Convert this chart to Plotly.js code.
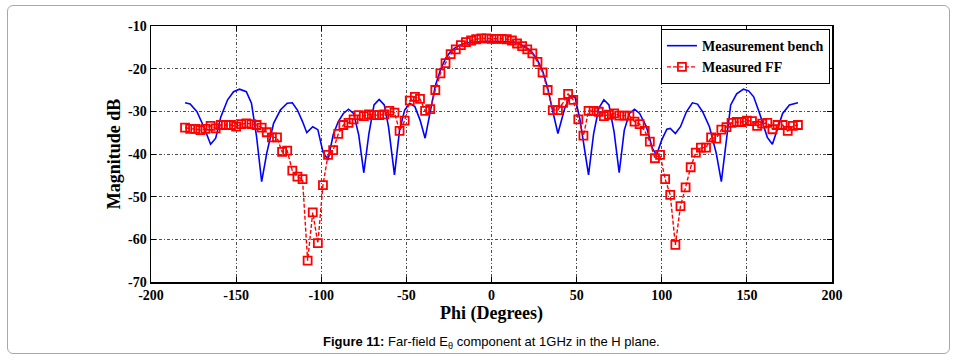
<!DOCTYPE html>
<html>
<head>
<meta charset="utf-8">
<script src="https://cdn.plot.ly/plotly-3.0.1.min.js"></script>
<style>
html,body{margin:0;padding:0;background:#fff;}
#frame{position:absolute;left:7px;top:5px;width:943px;height:349px;border:1px solid #a8a8a8;border-radius:6px;box-sizing:border-box;}
#chart{position:absolute;left:0;top:0;width:958px;height:361px;}
</style>
</head>
<body>
<div id="frame"></div>
<div id="chart"></div>
<script>
// Measured FF (red) — phi step 3 deg
const ffPhi = [];
for (let p = -180; p <= 180; p += 3) ffPhi.push(p);
const ffMag = [
-33.8,-34.1,-34.1,-34.4,-34.1,-33.4,-34.0,-33.2,-33.2,-33.2,
-33.6,-33.0,-32.8,-33.0,-33.2,-33.8,-34.9,-36.1,-36.1,-39.5,
-39.2,-43.9,-45.3,-45.9,-65.0,-53.7,-60.9,-47.3,-40.2,-39.1,
-35.3,-33.2,-32.7,-31.9,-30.9,-31.1,-30.7,-30.9,-30.9,-30.7,
-29.9,-30.3,-34.6,-32.2,-27.5,-26.6,-27.1,-29.9,-29.5,-25.0,
-21.1,-18.7,-16.6,-15.5,-14.5,-13.8,-13.4,-13.1,-12.9,-12.9,
-13.0,-13.0,-13.0,-13.1,-13.4,-14.1,-14.7,-15.5,-16.4,-18.4,
-20.9,-25.0,-29.7,-29.7,-28.0,-25.9,-27.3,-31.9,-35.7,-29.9,
-29.9,-30.1,-31.1,-30.8,-30.5,-31.0,-31.0,-31.0,-32.4,-33.0,
-34.6,-37.1,-41.0,-40.2,-45.9,-49.6,-61.3,-52.2,-47.8,-43.1,
-39.7,-38.5,-38.5,-36.1,-36.4,-34.3,-33.7,-32.7,-32.5,-32.5,
-32.2,-32.3,-33.4,-32.9,-32.7,-34.2,-33.2,-33.2,-34.6,-33.4,
-33.2
];

// Measurement bench (blue)
const benchPhi = [
-180,-177,-173,-169,-165,-162,-159,-155,-151.5,-148,
-144,-141,-138,-135,-132,-128,-124,-120,-117,-114,
-111,-108.5,-105,-102,-99,-96,-93,-90,-87,-84,
-81,-78,-75,-72,-69,-66,-63,-60.5,-57,-54,
-51,-48,-45,-42,-39,-36,-33,-30,-27,-24,
-21,-18,-15,-12,-9,-6,-3,0,3,6,
9,12,15,18,21,24,27,30,33,36,
39,43,46,49,52,55,57,60,63,66,
69,72,75,78,81,84,87,91,94.5,97,
100,103,105,108,111,114.5,118,121,124,128,
132,135,138,140.5,144,148,151,154,157.5,162,
165,168,171,175,180
];
const benchMag = [
-28.0,-28.3,-30.1,-33.6,-37.7,-36.3,-31.3,-27.3,-25.4,-24.8,
-25.4,-28.1,-35.9,-46.5,-39.8,-32.8,-29.7,-28.1,-28.0,-29.7,
-32.4,-35.0,-33.6,-34.3,-39.5,-41.4,-35.5,-32.4,-30.5,-29.5,
-30.5,-35.5,-44.4,-35.2,-28.5,-27.2,-28.5,-33.6,-44.9,-34.4,
-29.7,-28.1,-28.9,-32.0,-36.3,-30.5,-24.0,-20.3,-17.6,-16.0,
-15.0,-14.4,-14.0,-13.8,-13.7,-13.6,-13.6,-13.6,-13.6,-13.6,
-13.7,-13.8,-14.0,-14.5,-15.2,-16.2,-18.0,-20.5,-24.5,-30.0,
-35.2,-29.3,-26.6,-26.6,-32.0,-39.8,-44.9,-35.2,-29.3,-27.3,
-28.5,-34.8,-44.4,-34.4,-30.5,-29.5,-30.5,-33.6,-38.7,-40.2,
-36.7,-34.2,-34.0,-35.2,-33.6,-30.1,-28.0,-28.3,-30.1,-33.6,
-39.8,-46.5,-35.9,-28.5,-25.9,-24.8,-25.2,-26.6,-30.5,-36.1,
-37.7,-34.0,-30.5,-28.5,-28.0
];

const xTicks = [-200,-150,-100,-50,0,50,100,150,200];
const yTicks = [-70,-60,-50,-40,-30,-20,-10];

const serif = 'Liberation Serif, Times New Roman, serif';

const traces = [
  {
    x: benchPhi, y: benchMag, type: 'scatter', mode: 'lines',
    name: '<b>Measurement bench</b>',
    line: {color: '#0000ff', width: 1.6}
  },
  {
    x: ffPhi, y: ffMag, type: 'scatter', mode: 'lines+markers',
    name: '<b>Measured FF</b>',
    line: {color: '#ff0000', width: 1.4, dash: '4px,2px'},
    marker: {symbol: 'square-open', size: 8, color: '#ff0000', line: {width: 1.8, color: '#ff0000'}}
  }
];

const axisCommon = {
  showline: true, linecolor: '#000', linewidth: 1.5, mirror: 'ticks',
  ticks: 'inside', ticklen: 5, tickcolor: '#000', tickwidth: 1,
  showgrid: true, gridcolor: '#222', gridwidth: 0.8, griddash: '3px,2px,1px,2px',
  zeroline: false,
  tickfont: {family: serif, size: 14, color: '#000', weight: 'bold'}
};

const layout = {
  width: 958, height: 361,
  paper_bgcolor: 'rgba(0,0,0,0)', plot_bgcolor: '#fff',
  margin: {l: 151, r: 126, t: 26, b: 79},
  showlegend: true,
  legend: {
    x: 0.997, xanchor: 'right', y: 0.988, yanchor: 'top',
    bgcolor: '#fff', bordercolor: '#000', borderwidth: 1,
    font: {family: serif, size: 14, color: '#000'},
    tracegroupgap: 0, itemwidth: 30
  },
  xaxis: Object.assign({}, axisCommon, {
    range: [-200, 200], tickmode: 'array', tickvals: xTicks,
    ticktext: xTicks.map(String),
    title: {text: '<b>Phi (Degrees)</b>', font: {family: serif, size: 18, color: '#000'}, standoff: 4}
  }),
  yaxis: Object.assign({}, axisCommon, {
    range: [-70, -10], tickmode: 'array', tickvals: yTicks,
    ticktext: yTicks.map(String),
    title: {text: '<b>Magnitude dB</b>', font: {family: serif, size: 18, color: '#000'}, standoff: 2}
  }),
  annotations: [{
    xref: 'paper', yref: 'paper', x: 0.5, y: 0, yshift: -50,
    xanchor: 'center', yanchor: 'top', showarrow: false,
    text: '<b>Figure 11:</b> Far-field E<sub>θ</sub> component at 1GHz in the H plane.',
    font: {family: 'Liberation Sans, Arial, sans-serif', size: 13, color: '#000'}
  }]
};

Plotly.newPlot('chart', traces, layout, {displayModeBar: false, staticPlot: true});
</script>
</body>
</html>
